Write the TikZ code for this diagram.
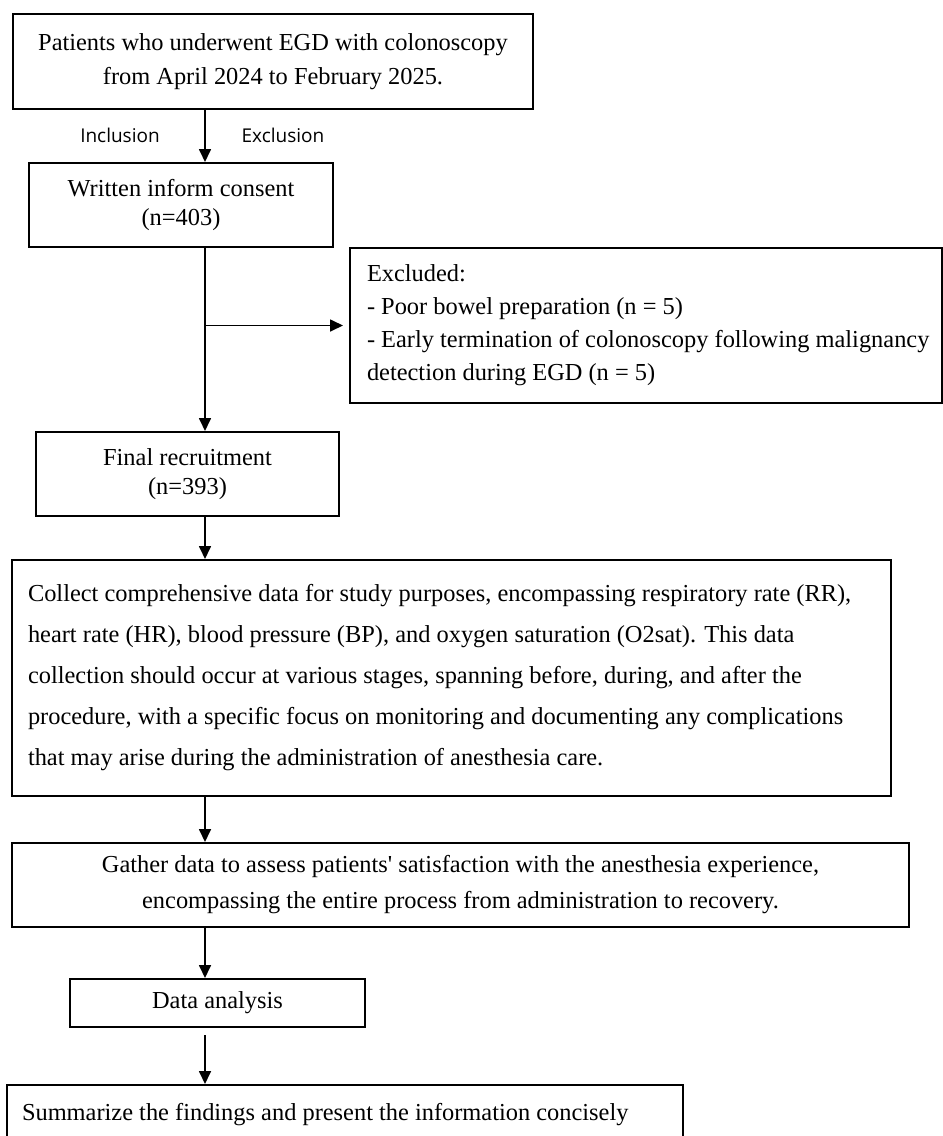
\documentclass[tikz,border=0pt]{standalone}
\usepackage{fontspec}
\setmainfont{Liberation Serif}
\newfontfamily\tagfont{Open Sans}
\usetikzlibrary{arrows.meta}

\begin{document}
\begin{tikzpicture}[x=0.5pt,y=-0.5pt,
  box/.style={draw,line width=1pt,inner sep=0pt},
  flow/.style={-{Triangle[length=6.5pt,width=6pt]},line width=0.85pt},
  tag/.style={font=\tagfont\fontsize{9.5}{11}\selectfont}]
  \clip (0,0) rectangle (943,1136);
  % the spine that all arrows follow
  \coordinate (spine) at (205,0);
  % screening
  \node[box,minimum width=260pt,minimum height=47.5pt,align=center,
    font=\fontsize{12.2}{17}\selectfont] (src) at (273,61.5)
    {Patients who underwent EGD with colonoscopy\\from April 2024 to February 2025.};
  \node[tag] (incl) at (120,135) {Inclusion};
  \node[tag] (exclt) at (283,135) {Exclusion};
  \node[box,minimum width=152pt,minimum height=42pt,align=center,
    font=\fontsize{12.2}{14.5}\selectfont] (consent) at (181,205)
    {Written inform consent\\(n=403)};
  % excluded patients
  \node[box,minimum width=296pt,minimum height=77.5pt,inner xsep=8.5pt,
    text width=279pt,align=flush left,font=\fontsize{12.2}{16.5}\selectfont] (excl) at (646,325.5)
    {Excluded:\\- Poor bowel preparation (n = 5)\\\mbox{- Early termination of colonoscopy following malignancy}\\detection during EGD (n = 5)};
  \node[box,minimum width=151.5pt,minimum height=42pt,align=center,
    font=\fontsize{12.2}{14.5}\selectfont] (final) at (187.5,474)
    {Final recruitment\\(n=393)};
  % study steps
  \node[box,minimum width=439.5pt,minimum height=118pt,inner xsep=8pt,
    text width=423.5pt,align=flush left,font=\fontsize{12.2}{20.5}\selectfont] (collect) at (451.5,678)
    {Collect comprehensive data for study purposes, encompassing respiratory rate (RR),\\
     heart rate (HR), blood pressure (BP), and oxygen saturation (O2sat). This data\\
     collection should occur at various stages, spanning before, during, and after the\\
     procedure, with a specific focus on monitoring and documenting any complications\\
     that may arise during the administration of anesthesia care.};
  \node[box,minimum width=448.5pt,minimum height=42pt,align=center,
    font=\fontsize{12.2}{18}\selectfont] (gather) at (460.5,885)
    {Gather data to assess patients\textquotesingle\ satisfaction with the anesthesia experience,\\
     encompassing the entire process from administration to recovery.};
  \node[box,minimum width=147.5pt,minimum height=24pt,
    font=\fontsize{12.2}{14.5}\selectfont] (analysis) at (217.5,1003) {Data analysis};
  \node[box,anchor=north,minimum width=338pt,inner xsep=7.5pt,text width=323pt,
    align=flush left,text height=17.5pt,text depth=40pt,
    font=\fontsize{12.2}{14.5}\selectfont] (summary) at (345,1084)
    {Summarize the findings and present the information concisely};
  % connectors
  \draw[flow] (src.south -| spine) -- (consent.north -| spine);
  \draw[flow] (consent.south -| spine) -- (final.north -| spine);
  \draw[flow,shorten >=3pt] (spine |- excl.west) -- (excl.west);
  \draw[flow] (final.south -| spine) -- (collect.north -| spine);
  \draw[flow] (collect.south -| spine) -- (gather.north -| spine);
  \draw[flow] (gather.south -| spine) -- (analysis.north -| spine);
  \draw[flow,shorten <=3.5pt] (analysis.south -| spine) -- (summary.north -| spine);
\end{tikzpicture}
\end{document}
